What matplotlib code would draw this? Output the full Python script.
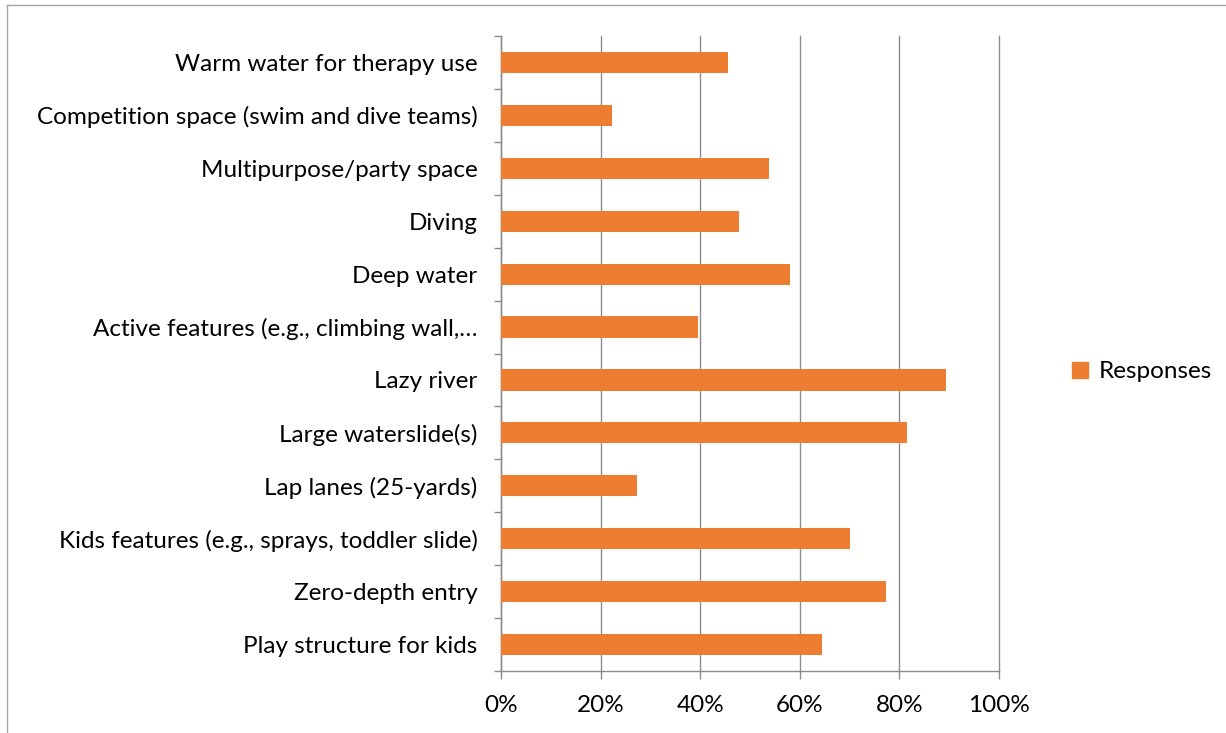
import matplotlib.pyplot as plt
import matplotlib
from matplotlib.lines import Line2D
from matplotlib.patches import Patch
from matplotlib.ticker import FixedLocator, PercentFormatter

plt.rc('font', family=['Lato', 'DejaVu Sans'], size=17.5)

# bottom to top, as drawn
categories = ['Play structure for kids', 'Zero-depth entry',
              'Kids features (e.g., sprays, toddler slide)', 'Lap lanes (25-yards)',
              'Large waterslide(s)', 'Lazy river', 'Active features (e.g., climbing wall,\u2026',
              'Deep water', 'Diving', 'Multipurpose/party space',
              'Competition space (swim and dive teams)', 'Warm water for therapy use']
responses = [0.645, 0.773, 0.701, 0.273, 0.815, 0.894, 0.396, 0.580, 0.478, 0.538, 0.223, 0.456]
xticks = [0, 0.2, 0.4, 0.6, 0.8, 1.0]

bar_col = '#ED7D31'
grid_col = '#8c8c8c'

fig = plt.figure(figsize=(12.26, 7.33), dpi=100)
ax = fig.add_axes([501/1226, 1 - 671/733, 498/1226, 635/733])

ypos = list(range(len(categories)))
ax.barh(ypos, responses, height=0.4, color=bar_col, zorder=3)

ax.set_xlim(0, 1)
ax.set_ylim(-0.5, len(categories) - 0.5)
ax.set_xticks(xticks)
ax.xaxis.set_major_formatter(PercentFormatter(1.0, decimals=0))
ax.set_yticks(ypos)
ax.set_yticklabels(categories)
ax.yaxis.set_minor_locator(FixedLocator([i - 0.5 for i in range(len(categories) + 1)]))

ax.tick_params(axis='y', which='major', length=0, pad=17)
ax.tick_params(axis='y', which='minor', length=5, color=grid_col, width=1)
ax.tick_params(axis='x', length=6, color=grid_col, width=1, pad=11)

ax.grid(axis='x', color=grid_col, linewidth=1, zorder=0)
for gl in ax.get_xgridlines():
    gl.set_clip_on(False)
for s in ['top', 'right']:
    ax.spines[s].set_visible(False)
for s in ['left', 'bottom']:
    ax.spines[s].set_color(grid_col)
    ax.spines[s].set_linewidth(1)

fig.legend(handles=[Patch(color=bar_col, label='Responses')], loc='center left',
           bbox_to_anchor=(1050/1226, 1 - 372/733), frameon=False,
           handlelength=0.65, handleheight=0.65, handletextpad=0.45)

# chart frame (clipped at right/bottom like the source)
fig.add_artist(Line2D([7/1226, 1], [1 - 5/733, 1 - 5/733], color='#a6a6a6', lw=1))
fig.add_artist(Line2D([7/1226, 7/1226], [0, 1 - 5/733], color='#a6a6a6', lw=1))

plt.savefig('out.png', dpi=100)
